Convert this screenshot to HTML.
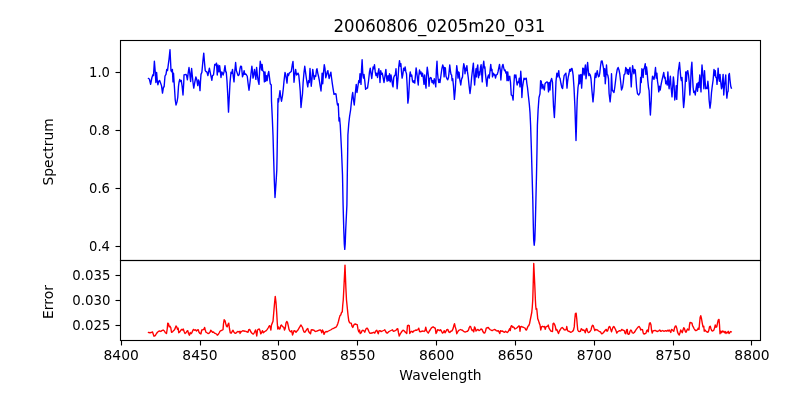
<!DOCTYPE html>
<html lang="en"><head><meta charset="utf-8"><title>20060806_0205m20_031</title>
<style>html,body{margin:0;padding:0;background:#fff;}body{width:800px;height:400px;overflow:hidden;}svg{display:block;font-family:"DejaVu Sans","Liberation Sans",sans-serif;}</style></head><body>
<svg width="800" height="400" viewBox="0 0 800 400">
<rect width="800" height="400" fill="#fff"/>
<defs><clipPath id="c1"><rect x="120.5" y="40.5" width="640" height="220"/></clipPath><clipPath id="c2"><rect x="120.5" y="260.5" width="640" height="80"/></clipPath></defs>
<polyline clip-path="url(#c1)" fill="none" stroke="#0000ff" stroke-width="1.39" stroke-linejoin="round" stroke-linecap="square" points="148.50,78.50 149.38,79.00 150.62,84.38 151.88,77.75 152.88,74.75 153.50,75.62 154.38,61.25 155.25,71.88 155.88,82.50 156.62,72.50 157.25,80.62 157.88,84.75 158.75,81.25 159.62,80.38 160.38,82.50 161.50,85.62 162.50,93.12 163.50,86.88 164.12,86.88 165.00,76.00 166.00,74.38 166.75,69.38 167.50,70.62 169.00,59.38 170.00,49.75 171.00,70.62 171.75,71.88 172.38,69.38 173.00,81.88 173.50,73.12 174.38,86.25 175.25,100.00 176.00,105.00 177.00,101.88 177.75,97.50 178.50,86.25 179.00,82.50 179.75,79.38 180.50,81.50 181.25,80.38 182.12,86.25 183.00,95.00 183.75,82.50 184.00,75.00 185.00,74.62 186.00,74.38 186.62,75.62 187.38,79.75 188.25,72.50 189.00,67.50 189.75,73.12 190.62,81.50 191.62,68.50 192.25,75.00 193.00,82.50 193.75,88.12 194.75,82.50 195.88,76.88 196.75,79.38 197.75,85.62 198.50,80.00 199.25,82.50 200.00,90.62 200.50,81.25 201.00,74.38 201.88,72.25 202.88,61.25 203.75,53.12 204.50,62.50 205.25,70.62 206.00,71.50 206.88,71.88 207.88,75.62 208.62,71.88 209.38,68.12 210.12,71.88 210.88,75.62 211.88,80.25 212.50,75.62 213.50,75.00 214.25,68.75 214.75,64.38 215.62,65.00 216.50,63.12 217.25,75.00 218.00,65.00 218.88,71.88 219.62,65.62 220.38,71.88 221.00,77.50 221.75,71.88 222.50,73.12 223.12,75.00 224.00,71.88 225.00,65.62 225.75,71.88 226.25,71.88 227.00,81.25 227.75,95.00 228.50,112.12 229.25,97.50 230.00,82.50 231.00,72.25 231.75,73.50 232.50,69.38 233.25,76.25 234.00,81.88 234.75,71.88 235.62,62.50 236.38,70.62 237.25,73.12 238.12,75.62 239.12,74.75 240.00,68.75 240.62,66.25 241.50,66.50 242.50,76.88 243.38,74.38 244.12,70.62 244.75,74.38 245.62,74.00 246.50,75.00 247.25,76.25 248.12,83.75 249.00,90.25 250.00,82.50 251.00,73.75 251.88,66.25 252.50,71.88 253.00,78.12 253.75,75.00 254.50,69.38 255.25,74.38 255.88,79.38 256.62,67.50 257.38,75.00 258.12,80.62 259.00,84.38 259.62,70.00 260.25,61.25 261.00,65.62 261.50,70.00 262.12,64.38 262.75,70.62 263.75,71.88 264.38,81.88 265.00,71.88 265.62,81.25 266.50,75.62 267.12,80.62 267.88,75.00 268.75,71.50 269.50,77.50 270.25,83.75 271.25,85.00 271.50,101.00 272.30,118.00 273.00,135.00 273.70,160.00 274.30,180.00 275.00,197.50 275.60,189.00 276.20,180.00 276.80,170.00 277.10,155.00 277.40,135.00 277.70,116.00 277.90,104.00 278.00,98.75 278.50,102.00 279.10,97.50 280.00,90.60 280.60,96.25 281.50,101.25 282.50,95.60 283.30,88.75 284.00,81.25 285.00,72.50 285.75,75.00 286.25,78.12 287.00,83.12 287.75,73.75 288.50,75.62 289.25,73.12 290.00,72.50 291.25,71.50 292.25,65.00 293.00,61.50 293.50,70.00 294.00,82.25 294.75,75.00 295.62,69.38 296.50,75.00 297.25,74.38 298.00,73.12 298.75,75.00 299.50,82.50 300.25,91.25 301.00,107.50 301.88,98.75 302.50,93.75 303.12,82.50 304.00,72.50 304.75,66.25 305.50,71.88 306.25,77.50 307.00,82.50 307.75,86.88 308.50,80.62 309.25,82.50 310.00,68.50 310.62,77.50 311.25,86.25 312.00,78.75 312.75,69.38 313.50,75.00 314.25,79.38 315.00,75.62 315.75,76.25 316.50,70.00 317.00,68.75 317.75,73.12 318.50,76.25 319.25,80.00 320.00,85.00 321.00,91.00 321.62,82.50 322.12,73.12 322.75,83.75 323.38,73.75 324.25,64.75 325.00,68.75 325.75,77.75 326.50,75.00 327.25,71.88 327.88,70.62 328.50,75.00 329.12,78.50 330.00,75.00 330.88,72.25 331.50,77.50 332.25,83.12 333.00,88.12 334.00,94.38 335.00,93.75 336.00,94.00 336.88,101.25 337.50,105.00 338.25,103.75 339.00,121.00 339.62,118.00 340.12,124.00 340.25,125.00 341.50,150.00 342.50,175.00 343.10,205.00 343.80,230.00 344.30,244.00 344.75,249.40 345.20,244.00 345.70,230.00 346.90,205.00 347.30,175.00 347.70,150.00 347.90,135.00 348.75,123.75 349.60,116.25 350.60,110.00 351.50,101.25 352.25,95.00 352.70,92.50 353.50,100.00 354.25,105.00 355.25,93.75 356.25,84.38 357.00,92.50 357.75,87.50 358.75,80.62 359.38,82.50 360.00,73.75 361.00,84.38 361.50,70.00 362.12,59.75 362.88,75.00 363.50,78.12 364.00,74.38 364.75,80.62 365.62,89.38 366.50,88.12 367.50,88.12 368.50,81.25 369.50,71.88 370.25,68.12 371.00,73.75 371.75,78.50 372.50,71.88 373.12,66.88 373.75,68.75 374.50,64.75 375.25,71.88 376.00,75.62 376.75,73.12 377.50,77.50 378.25,71.88 378.88,68.75 379.50,75.00 380.00,82.50 380.75,70.62 381.50,74.38 382.25,73.12 383.12,77.50 384.00,82.50 384.75,77.50 385.88,69.38 386.50,76.88 387.12,81.25 388.00,75.62 388.75,80.62 389.50,73.75 390.25,81.88 391.00,75.00 391.75,79.38 392.50,85.00 393.00,86.88 393.75,77.50 394.50,75.62 395.25,75.00 396.00,68.75 396.62,78.75 397.12,88.75 397.75,81.25 398.25,75.00 398.75,66.88 399.50,60.62 400.25,66.25 400.88,63.75 401.50,71.88 402.12,78.12 402.88,74.38 403.62,68.12 404.38,70.62 405.12,66.88 405.88,71.88 406.50,73.75 407.25,87.50 407.88,103.12 408.62,97.50 409.38,82.50 409.75,75.00 410.25,71.88 411.00,76.25 411.75,75.00 412.50,81.25 413.25,82.50 414.00,80.62 414.75,83.12 415.50,75.00 416.12,67.88 416.88,73.12 417.50,78.75 418.25,85.00 418.75,76.25 419.50,70.00 420.25,73.75 421.00,71.88 421.75,76.25 422.50,73.12 423.25,77.50 424.00,84.38 424.62,75.00 425.25,81.25 426.00,88.12 426.62,75.00 427.25,67.25 427.88,71.88 428.50,76.88 429.00,86.25 429.75,78.75 430.50,77.50 431.25,78.12 432.00,82.50 432.75,80.62 433.50,83.75 434.25,78.75 435.00,81.88 435.75,86.88 436.38,70.00 437.00,61.25 437.50,72.50 438.12,78.75 438.75,82.50 439.50,79.38 440.00,82.50 441.00,75.00 441.88,68.75 442.75,65.00 443.50,67.50 444.12,76.88 444.75,67.50 445.38,68.12 446.00,76.25 446.88,78.50 447.75,79.75 448.50,77.50 449.12,71.88 449.75,65.00 450.38,70.62 451.00,74.38 451.62,75.00 452.12,80.62 452.75,78.75 453.50,86.25 454.38,99.38 455.25,90.00 456.00,76.25 456.75,65.62 457.50,71.88 458.00,78.12 458.50,71.88 459.12,72.50 459.75,79.38 460.75,85.00 461.50,79.38 462.50,76.88 463.12,68.75 463.75,63.75 464.50,66.88 465.00,73.75 465.62,68.12 466.25,70.62 466.88,65.62 467.50,71.88 468.25,77.50 469.00,85.00 470.00,93.50 470.88,86.25 471.62,77.50 472.50,70.00 473.38,63.12 474.00,76.25 474.62,85.00 475.25,76.25 476.00,68.75 476.50,76.88 477.12,68.12 477.75,65.00 478.50,77.75 479.25,71.88 479.75,75.00 480.50,67.50 481.12,64.75 481.75,75.00 482.25,81.88 482.88,67.50 483.75,61.25 484.38,68.12 484.88,66.88 485.38,73.12 486.00,78.75 486.88,86.25 487.62,77.50 488.50,75.00 489.25,78.12 490.00,71.25 490.75,64.38 491.38,70.62 492.00,69.38 492.50,76.88 493.25,73.12 494.00,75.00 494.75,74.38 495.50,78.12 496.25,75.00 497.25,74.38 498.00,71.88 498.75,68.12 499.50,64.38 500.25,70.00 500.88,80.00 501.50,71.88 502.25,66.25 503.00,64.38 503.75,68.12 504.50,70.62 505.12,70.00 505.88,73.12 506.50,71.88 507.00,80.62 507.75,71.88 508.50,80.62 509.12,76.88 509.75,76.25 510.50,82.50 511.25,95.00 512.25,95.62 513.12,100.00 513.75,86.25 514.50,75.00 515.25,77.50 515.88,75.00 516.50,80.62 517.12,85.00 517.88,81.88 518.62,82.50 519.25,78.12 520.00,86.88 520.75,71.25 521.38,80.00 521.88,97.50 522.50,87.50 523.25,82.50 524.00,78.12 524.75,79.38 525.50,78.75 526.25,78.12 526.88,83.75 527.50,87.50 528.40,96.00 529.30,104.00 530.00,112.50 530.60,125.00 531.40,150.00 532.10,175.00 532.80,200.00 533.30,225.00 533.70,240.00 534.20,245.20 534.80,240.00 535.30,225.00 535.90,200.00 536.50,175.00 537.00,150.00 537.40,125.00 538.10,110.00 539.00,97.50 540.00,93.75 540.62,80.62 541.25,81.25 542.00,88.75 542.75,84.38 543.50,87.50 544.38,90.00 545.00,83.75 546.00,82.50 547.00,81.88 547.75,82.50 548.50,91.88 549.25,82.50 550.00,90.00 550.62,81.25 551.62,78.50 552.50,82.50 553.50,106.25 554.38,117.50 555.25,100.00 556.00,81.25 556.88,73.12 557.50,76.88 558.12,74.38 558.75,70.62 559.38,77.50 560.00,78.12 561.00,83.75 561.88,87.50 562.62,88.50 563.38,81.25 564.12,75.62 565.00,74.38 565.88,73.12 566.50,80.00 567.00,88.12 567.50,82.50 568.25,76.88 569.00,73.75 569.75,69.38 570.50,71.25 571.25,68.75 572.00,68.50 572.75,72.50 573.10,75.00 574.00,87.50 574.90,106.25 575.50,125.00 576.00,140.60 576.50,125.00 576.80,112.00 577.20,100.00 578.00,87.50 578.75,82.50 579.00,75.00 579.75,83.75 580.38,75.00 581.00,74.38 581.62,88.12 582.25,78.75 582.75,68.12 583.50,68.75 584.12,75.00 584.75,69.38 585.38,65.00 586.00,78.75 586.62,73.75 587.12,66.88 587.62,62.50 588.25,70.00 588.88,75.62 589.50,73.75 590.25,75.00 591.00,78.75 591.88,90.00 593.00,101.88 594.00,91.25 594.75,77.50 595.38,73.12 596.00,77.50 596.62,73.75 597.25,70.62 597.88,74.38 598.50,76.88 599.12,76.25 599.75,73.12 600.50,66.25 601.25,61.25 602.12,61.00 602.88,65.00 603.50,68.12 604.12,76.25 604.75,68.75 605.25,83.75 605.88,76.25 606.50,65.00 607.12,74.38 607.75,75.00 608.50,78.75 609.12,93.75 610.12,101.88 611.00,92.50 611.50,73.75 612.25,90.00 613.12,91.25 614.00,92.50 614.75,87.50 615.50,81.25 616.25,75.00 617.25,69.38 618.12,67.50 619.00,70.00 619.75,73.75 620.62,81.25 621.50,90.00 622.50,87.50 623.25,82.50 624.00,75.00 625.00,73.75 625.75,67.50 626.50,68.75 627.25,73.75 627.88,69.38 628.50,74.38 629.12,70.62 630.00,67.50 630.62,75.00 631.25,86.88 631.88,75.00 632.62,65.62 633.25,70.00 633.88,73.75 634.50,69.38 635.25,70.00 636.00,78.75 636.62,87.50 637.50,93.75 638.75,95.00 640.00,92.50 640.62,77.50 641.25,82.50 641.88,68.75 642.50,70.00 643.12,77.50 643.75,69.38 644.50,67.50 645.25,63.75 645.88,74.38 646.50,66.88 647.12,71.88 647.75,80.00 648.50,87.50 649.12,90.62 649.75,105.00 650.38,115.00 651.25,100.00 651.88,82.50 652.50,76.25 653.25,77.50 654.00,79.38 654.75,74.38 655.50,67.50 656.25,78.12 656.88,73.12 657.50,81.25 658.25,86.25 658.75,91.88 659.50,86.25 660.25,90.00 661.00,85.00 661.88,80.62 662.75,76.88 663.75,72.50 664.50,78.12 665.12,77.25 665.75,83.75 666.50,81.25 667.25,85.00 667.88,71.88 668.50,82.50 669.12,88.75 669.75,81.25 670.38,76.25 671.00,86.25 672.00,96.88 672.75,86.25 673.38,76.88 674.00,82.50 674.75,100.00 675.62,95.00 676.25,85.62 676.75,99.38 677.50,82.50 678.25,71.25 679.00,66.25 679.50,62.50 680.12,70.00 680.75,77.50 681.38,80.62 682.00,77.50 682.50,86.25 683.12,100.00 683.62,107.50 684.38,100.00 685.12,86.25 685.75,71.88 686.38,81.25 687.00,71.88 687.75,70.62 688.50,75.00 689.12,81.25 689.88,95.00 690.50,86.25 691.12,70.00 691.88,62.25 692.50,76.25 693.12,87.50 693.75,92.50 694.62,91.25 695.25,95.00 696.00,88.75 696.88,83.75 697.50,91.25 698.25,82.50 699.00,87.50 699.75,75.00 700.38,82.50 701.00,91.88 701.50,75.00 702.00,65.00 702.75,73.75 703.38,80.00 703.88,88.75 704.50,70.62 705.12,81.25 705.75,88.75 706.38,87.50 707.12,88.75 707.88,81.25 708.50,87.50 709.12,100.00 710.00,108.12 710.75,102.50 711.50,92.50 712.25,86.25 713.12,80.00 714.00,69.38 714.62,75.62 715.25,70.62 715.88,77.50 716.50,77.50 717.00,84.38 717.62,76.25 718.12,68.12 718.75,77.50 719.38,81.25 720.00,74.38 720.62,81.25 721.50,88.75 722.00,87.50 722.62,80.00 723.12,74.38 723.75,95.00 724.38,86.25 725.00,81.25 725.75,75.00 726.25,88.75 726.88,98.12 727.50,92.50 728.12,91.25 728.75,75.00 729.38,73.50 730.00,80.00 730.75,86.25 731.38,88.12"/>
<polyline clip-path="url(#c2)" fill="none" stroke="#ff0000" stroke-width="1.39" stroke-linejoin="round" stroke-linecap="square" points="148.50,332.50 150.00,332.75 151.25,332.50 152.50,331.88 153.12,333.75 154.00,336.25 155.25,335.62 156.50,333.50 157.50,332.25 158.75,331.25 159.75,331.00 160.75,331.50 161.88,330.62 163.12,330.00 164.38,331.00 165.38,332.75 166.50,333.50 167.25,328.75 167.75,323.12 168.50,323.75 169.25,326.88 170.00,326.25 170.75,327.50 171.50,332.25 172.50,331.88 173.50,330.62 174.38,330.00 175.25,328.12 176.00,326.00 176.75,326.88 177.50,329.38 178.12,328.12 178.75,332.75 179.75,331.88 180.62,330.62 181.50,329.38 182.50,330.00 183.25,329.00 184.00,331.25 185.00,333.50 186.00,332.75 187.00,331.00 187.75,330.62 188.50,333.50 189.38,335.25 190.25,332.50 191.00,333.75 191.88,332.75 192.75,330.62 193.50,329.38 194.50,330.25 195.50,329.75 196.50,331.00 197.50,330.00 198.25,329.75 199.00,332.25 200.00,333.50 200.88,334.00 201.75,330.00 202.75,329.75 203.75,329.38 204.62,327.50 205.25,330.00 206.00,332.25 207.00,332.75 208.00,333.50 209.00,333.25 210.00,332.25 210.75,330.25 211.50,331.00 212.50,332.25 213.50,332.00 214.50,333.12 215.50,333.50 216.50,334.00 217.25,335.25 218.25,334.38 219.25,332.75 220.00,331.25 221.00,330.62 222.00,330.25 223.00,329.75 223.50,323.75 224.12,319.75 225.00,320.62 225.75,323.75 226.50,326.25 227.25,326.88 228.00,324.38 228.75,323.12 229.50,328.75 230.25,332.75 231.25,333.12 232.25,331.25 233.00,330.25 233.75,331.88 234.75,333.12 235.75,333.25 236.75,332.25 237.75,331.50 238.75,331.88 240.00,331.25 240.00,333.50 241.00,331.88 242.00,331.25 243.00,330.62 244.00,331.25 245.00,331.00 246.00,331.50 247.00,331.88 248.00,332.25 248.75,329.75 249.75,329.50 250.50,331.25 251.50,332.75 252.50,333.75 253.50,334.00 254.50,332.25 255.50,330.00 256.25,333.12 256.75,336.00 257.50,330.00 258.38,329.38 259.25,329.00 260.00,330.62 260.75,333.75 261.50,332.75 262.50,330.62 263.25,332.75 264.25,331.88 265.25,331.25 266.25,330.62 267.25,329.38 268.25,327.75 269.00,326.25 269.75,325.62 270.38,328.12 270.88,330.00 271.50,325.00 272.25,323.12 273.00,321.25 273.75,312.50 274.50,303.75 275.25,296.38 276.00,302.50 276.75,313.75 277.25,322.50 277.75,329.00 278.50,326.88 279.25,329.00 280.00,328.75 280.75,325.62 281.50,325.00 282.25,326.25 283.00,326.88 283.75,327.25 284.50,330.00 285.25,328.12 286.00,323.12 286.75,321.50 287.50,322.50 288.25,325.62 289.00,329.38 290.00,331.25 291.00,331.88 291.75,330.62 292.50,335.00 293.25,333.12 294.00,330.62 295.00,331.00 296.00,332.25 297.00,331.00 298.00,330.00 299.00,328.12 300.00,326.50 301.00,325.00 301.75,326.25 302.50,327.50 303.25,330.00 304.00,331.88 305.00,332.25 306.00,330.62 307.00,329.00 307.75,328.50 308.50,331.25 309.50,332.75 310.50,333.75 311.25,330.00 312.00,329.75 313.00,330.00 314.00,330.25 315.00,331.25 316.00,331.50 317.00,331.00 318.00,330.62 319.00,330.25 320.00,329.75 321.00,330.62 321.75,332.75 322.50,330.00 323.25,331.25 324.00,334.38 325.00,332.25 326.00,331.50 327.00,331.88 328.00,331.25 329.00,330.75 330.00,330.25 331.00,329.75 332.00,329.00 333.00,328.50 334.00,328.12 335.00,327.50 336.00,327.25 337.00,325.62 337.75,323.75 338.50,321.25 339.25,318.12 340.00,315.62 340.75,315.00 341.50,312.50 342.25,311.88 342.75,305.00 343.25,300.00 343.88,288.00 345.00,265.12 345.88,288.00 346.50,300.00 347.25,307.50 348.00,315.00 348.75,320.62 349.50,322.50 350.25,323.12 351.25,323.12 352.00,326.25 352.75,327.50 353.50,325.62 354.25,324.38 355.25,324.00 356.25,324.38 357.25,324.75 358.00,329.38 358.75,331.88 359.50,330.00 360.25,333.50 361.25,332.75 362.00,330.62 363.00,330.25 364.00,331.00 364.75,332.25 365.50,330.00 366.25,328.50 367.25,328.25 368.00,329.38 368.75,331.25 369.75,333.12 370.75,333.25 371.75,333.00 372.75,332.75 373.75,332.25 374.75,333.12 375.75,331.00 376.75,330.25 377.50,331.88 378.25,333.75 379.00,331.00 380.00,330.62 381.00,331.50 382.00,331.25 383.00,330.75 384.00,330.25 384.75,329.75 385.50,331.25 386.50,332.75 387.50,333.12 388.50,331.88 389.50,331.25 390.50,330.75 391.50,330.25 392.50,329.75 393.25,331.25 394.25,331.00 395.25,330.62 396.25,330.00 397.00,329.00 397.75,328.75 398.50,332.75 399.25,336.00 400.00,334.38 401.00,332.75 402.00,331.25 403.00,330.25 404.00,330.62 405.00,331.88 406.00,332.75 406.75,333.50 407.50,325.62 408.50,325.25 409.25,325.62 409.75,333.50 410.75,331.88 411.75,331.25 412.75,332.25 413.75,331.00 414.75,330.62 415.75,330.00 416.75,330.25 417.75,329.75 418.75,328.12 419.50,331.25 420.00,331.88 421.00,331.50 422.00,331.25 423.00,331.00 424.00,331.50 425.00,330.62 425.75,327.25 426.50,330.62 427.25,331.88 428.25,333.12 429.25,331.25 430.25,329.75 431.25,328.12 432.25,327.25 433.25,326.88 434.25,327.75 435.25,328.12 436.00,333.50 436.75,332.25 437.50,329.75 438.50,330.00 439.50,330.62 440.50,329.75 441.50,331.25 442.50,333.12 443.50,332.25 444.25,330.62 445.00,332.75 446.00,331.25 446.75,329.75 447.75,329.38 448.75,331.88 449.75,332.50 450.75,331.25 451.75,331.00 452.50,330.00 453.25,328.12 454.00,325.00 454.50,323.75 455.25,326.88 456.00,329.38 456.75,333.75 457.50,332.25 458.50,330.62 459.50,330.00 460.50,329.50 461.50,330.00 462.50,330.25 463.50,331.25 464.50,331.88 465.50,332.00 466.50,331.50 467.50,331.25 468.50,330.00 469.25,327.50 470.00,326.25 470.75,326.88 471.50,329.38 472.25,330.62 473.00,330.00 473.75,331.88 474.50,326.88 475.25,328.12 476.00,331.00 477.00,330.00 478.00,329.38 479.00,330.62 480.00,330.00 481.00,329.00 482.00,329.38 482.75,331.25 483.75,332.75 484.75,333.00 485.50,331.25 486.25,328.12 487.25,327.75 488.25,327.50 489.25,328.75 490.25,329.75 491.25,330.25 492.25,330.62 493.25,330.00 494.25,329.50 495.25,329.75 496.25,330.62 497.25,331.00 498.25,330.62 499.00,331.88 499.75,333.50 500.50,330.62 501.50,331.25 502.50,331.00 503.50,331.88 504.50,332.25 505.50,331.25 506.25,331.88 507.25,332.50 508.25,331.50 509.00,330.00 509.75,328.50 510.25,330.62 511.00,326.25 511.75,325.62 512.50,327.25 513.25,326.88 514.00,327.50 515.00,329.00 516.00,328.50 517.00,327.75 518.00,326.88 518.75,326.00 519.50,326.25 520.00,331.25 520.50,326.88 521.25,326.50 522.25,326.88 523.25,327.25 524.25,327.75 525.00,328.12 525.75,329.75 526.50,330.00 527.25,328.12 528.00,326.25 528.75,325.62 529.50,323.75 530.25,320.00 531.00,316.25 531.75,312.50 532.25,307.50 532.75,300.00 533.12,287.50 533.75,263.50 534.00,268.75 534.88,287.50 535.38,300.00 535.75,306.25 536.12,309.38 536.75,308.75 537.25,313.75 537.75,318.75 538.50,320.62 539.25,323.12 540.00,325.00 540.75,330.00 541.50,326.88 542.50,326.25 543.50,326.88 544.50,326.50 545.25,329.38 546.00,326.88 546.75,326.50 547.50,326.25 548.25,325.00 549.00,328.12 549.75,329.38 550.75,331.00 551.75,331.25 552.50,331.50 553.00,323.75 553.75,323.12 554.50,324.38 555.25,326.25 556.00,330.00 556.75,329.38 557.50,331.25 558.50,333.50 559.25,331.25 560.25,329.75 561.25,328.12 562.25,327.50 563.25,328.50 564.25,329.75 565.25,330.00 566.25,329.38 566.75,326.50 567.50,330.62 568.50,331.25 569.50,331.50 570.50,332.25 571.50,332.00 572.50,331.50 573.50,330.00 574.25,326.88 574.75,320.00 575.38,313.50 576.12,313.12 576.75,318.75 577.25,325.00 577.75,330.00 578.50,331.25 579.50,331.50 580.50,331.25 581.25,328.75 582.00,329.38 582.75,330.25 583.75,330.00 584.75,331.25 585.25,332.75 586.00,329.38 586.75,328.50 587.50,331.25 588.25,332.50 589.25,332.25 590.25,331.25 591.00,330.00 591.75,326.88 592.50,325.25 593.25,325.62 594.00,328.12 594.75,330.62 595.50,329.38 596.50,329.75 597.50,330.00 598.50,331.00 599.50,331.50 600.50,331.88 601.50,333.75 602.50,333.50 603.50,332.50 604.50,331.25 605.50,330.00 606.25,329.38 607.00,331.25 607.75,330.62 608.50,328.12 609.25,326.50 610.00,326.88 610.75,329.38 611.50,331.88 612.25,329.38 613.00,327.25 613.75,326.50 614.50,327.50 615.25,329.00 616.00,330.62 616.75,333.12 617.50,331.88 618.50,331.25 619.50,330.62 620.00,331.00 621.00,330.62 621.75,329.38 622.50,330.00 623.50,330.25 624.25,330.62 625.00,333.12 625.75,333.75 626.50,330.00 627.25,329.38 627.75,333.75 628.50,334.38 629.25,334.00 630.00,331.25 630.75,330.00 631.50,330.62 632.25,332.75 633.25,333.25 634.25,332.50 635.25,331.00 636.25,329.38 637.25,328.12 638.25,326.88 639.25,326.50 640.00,327.75 640.75,330.00 641.50,329.38 642.50,329.75 643.25,333.12 644.00,334.00 645.00,333.75 646.00,333.12 646.75,330.62 647.50,330.00 648.25,331.88 648.75,327.50 649.50,323.12 650.25,322.75 651.00,325.00 651.50,330.00 652.25,333.12 653.00,331.00 654.00,330.62 655.00,330.50 656.00,330.75 657.00,331.50 658.00,331.25 659.00,330.62 659.75,330.00 660.75,331.25 661.75,331.00 662.75,330.50 663.75,331.25 664.75,331.00 665.75,330.62 666.75,331.25 667.75,330.25 668.50,331.00 669.25,330.00 670.00,331.25 670.75,332.50 671.50,329.38 672.25,329.75 673.00,330.62 673.75,331.25 674.50,328.12 675.25,326.25 676.00,326.00 676.75,328.12 677.50,331.88 678.25,333.75 679.25,335.00 680.00,332.75 680.75,330.00 681.50,331.25 682.25,332.75 683.00,330.00 683.75,327.75 684.50,328.75 685.25,331.25 686.00,332.25 686.75,330.62 687.50,329.00 688.25,329.75 689.00,330.00 689.50,325.00 690.00,322.50 691.00,322.75 692.00,323.12 692.50,325.62 693.25,326.88 694.00,328.50 694.75,329.75 695.75,330.62 696.75,330.25 697.50,329.75 698.25,328.12 699.00,329.38 699.50,323.75 700.12,317.50 700.75,315.62 701.50,318.75 702.25,323.12 703.00,326.88 703.75,326.25 704.25,331.25 705.00,330.00 706.00,331.25 707.00,332.00 708.00,332.25 708.75,330.62 709.50,326.88 710.25,326.25 711.00,328.75 711.75,330.62 712.75,331.00 713.75,330.25 714.50,328.12 715.25,325.00 716.00,327.25 716.75,326.88 717.50,323.12 718.25,320.00 719.00,319.38 719.50,325.00 720.00,333.75 720.75,331.25 721.50,332.75 722.25,331.00 723.00,331.88 723.75,331.25 724.50,332.75 725.25,331.50 726.00,333.50 726.75,332.25 727.50,332.75 728.25,331.25 729.00,333.50 729.75,332.75 730.50,331.50 731.25,331.88"/>
<g fill="none" stroke="#000" stroke-width="1.11" stroke-linecap="square" stroke-linejoin="miter">
<rect x="120.5" y="40.5" width="640" height="220"/><rect x="120.5" y="260.5" width="640" height="80"/>
</g>
<g stroke="#000" stroke-width="1.11" stroke-linecap="butt">
<line x1="121.50" y1="340.5" x2="121.50" y2="345.5"/>
<line x1="200.50" y1="340.5" x2="200.50" y2="345.5"/>
<line x1="278.50" y1="340.5" x2="278.50" y2="345.5"/>
<line x1="357.50" y1="340.5" x2="357.50" y2="345.5"/>
<line x1="436.50" y1="340.5" x2="436.50" y2="345.5"/>
<line x1="515.50" y1="340.5" x2="515.50" y2="345.5"/>
<line x1="594.50" y1="340.5" x2="594.50" y2="345.5"/>
<line x1="673.50" y1="340.5" x2="673.50" y2="345.5"/>
<line x1="751.50" y1="340.5" x2="751.50" y2="345.5"/>
<line x1="115.5" y1="72.50" x2="120.5" y2="72.50"/>
<line x1="115.5" y1="130.50" x2="120.5" y2="130.50"/>
<line x1="115.5" y1="188.50" x2="120.5" y2="188.50"/>
<line x1="115.5" y1="246.50" x2="120.5" y2="246.50"/>
<line x1="115.5" y1="275.50" x2="120.5" y2="275.50"/>
<line x1="115.5" y1="300.50" x2="120.5" y2="300.50"/>
<line x1="115.5" y1="325.50" x2="120.5" y2="325.50"/>
</g>
<g fill="#000" font-size="13.89px">
<text x="121.20" y="359.9" text-anchor="middle">8400</text>
<text x="200.00" y="359.9" text-anchor="middle">8450</text>
<text x="278.90" y="359.9" text-anchor="middle">8500</text>
<text x="357.70" y="359.9" text-anchor="middle">8550</text>
<text x="436.60" y="359.9" text-anchor="middle">8600</text>
<text x="515.40" y="359.9" text-anchor="middle">8650</text>
<text x="594.30" y="359.9" text-anchor="middle">8700</text>
<text x="673.10" y="359.9" text-anchor="middle">8750</text>
<text x="752.00" y="359.9" text-anchor="middle">8800</text>
<text transform="translate(110.0,77.10) scale(0.95,1)" text-anchor="end">1.0</text>
<text transform="translate(110.0,135.10) scale(0.95,1)" text-anchor="end">0.8</text>
<text transform="translate(110.0,193.10) scale(0.95,1)" text-anchor="end">0.6</text>
<text transform="translate(110.0,251.10) scale(0.95,1)" text-anchor="end">0.4</text>
<text transform="translate(110.5,280.10) scale(0.96,1)" text-anchor="end">0.035</text>
<text transform="translate(110.5,305.10) scale(0.96,1)" text-anchor="end">0.030</text>
<text transform="translate(110.5,330.10) scale(0.96,1)" text-anchor="end">0.025</text>
<text x="440.5" y="379.6" text-anchor="middle">Wavelength</text>
<text transform="translate(52.6,151.9) rotate(-90)" text-anchor="middle">Spectrum</text>
<text transform="translate(52.6,302) rotate(-90)" text-anchor="middle">Error</text>
</g>
<text transform="translate(439.5,32) scale(0.9293,1)" text-anchor="middle" font-size="17.83px" fill="#000">20060806_0205m20_031</text>
</svg></body></html>
